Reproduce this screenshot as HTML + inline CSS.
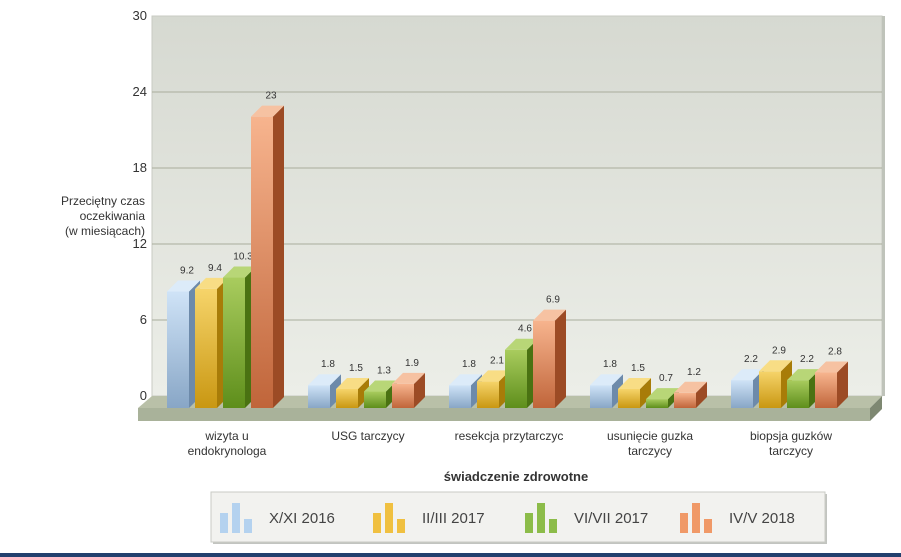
<!DOCTYPE html>
<html><head><meta charset="utf-8"><style>
body{margin:0;background:#fff;font-family:"Liberation Sans",Verdana,sans-serif}
svg{display:block}
</style></head><body>
<svg id="c" width="901" height="557" viewBox="0 0 901 557">
<defs>
<linearGradient id="wall" x1="0" y1="0" x2="0" y2="1"><stop offset="0" stop-color="#d6d9d1"/><stop offset="1" stop-color="#eceee8"/></linearGradient>
<linearGradient id="g0" x1="0" x2="0" y1="0" y2="1"><stop offset="0" stop-color="#cfe3f7"/><stop offset="1" stop-color="#88a6c6"/></linearGradient>
<linearGradient id="g1" x1="0" x2="0" y1="0" y2="1"><stop offset="0" stop-color="#f6d46a"/><stop offset="1" stop-color="#c99712"/></linearGradient>
<linearGradient id="g2" x1="0" x2="0" y1="0" y2="1"><stop offset="0" stop-color="#a9cc5e"/><stop offset="1" stop-color="#5e8e1b"/></linearGradient>
<linearGradient id="g3" x1="0" x2="0" y1="0" y2="1"><stop offset="0" stop-color="#f7b48e"/><stop offset="1" stop-color="#c0653a"/></linearGradient>
</defs>
<rect x="152" y="16" width="730" height="380" fill="url(#wall)" stroke="#c8cbc3"/>
<rect x="882" y="16" width="3" height="380" fill="#bfc3ba"/>
<g id="grid"></g>
<polygon points="152,396 882,396 870,408 138,408" fill="#b9c0a8"/>
<polygon points="138,408 870,408 870,421 138,421" fill="#a9b29a"/>
<polygon points="870,408 882,396 882,409 870,421" fill="#7e8872"/>
<g id="bars"></g>
<g id="xlabels" font-size="12" fill="#333" text-anchor="middle"></g>
<text x="145" y="205" font-size="12" fill="#333" text-anchor="end"><tspan x="145" y="205">Przeciętny czas</tspan><tspan x="145" y="220">oczekiwania</tspan><tspan x="145" y="235">(w miesiącach)</tspan></text>
<text x="516" y="481" font-size="13" font-weight="bold" fill="#333" text-anchor="middle">świadczenie zdrowotne</text>
<rect x="213" y="494" width="614" height="50" fill="#9a9c96" opacity="0.6"/>
<rect x="211" y="492" width="614" height="50" fill="#f2f2ef" stroke="#c9cbc5"/>
<g id="legend"></g>
<rect x="0" y="553" width="901" height="4" fill="#22406e"/>
</svg>
<script>
const categories=[["wizyta u","endokrynologa"],["USG tarczycy"],["resekcja przytarczyc"],["usunięcie guzka","tarczycy"],["biopsja guzków","tarczycy"]];
const seriesNames=["X/XI 2016","II/III 2017","VI/VII 2017","IV/V 2018"];
const s2016=[9.2,1.8,1.8,1.8,2.2];
const s2017a=[9.4,1.5,2.1,1.5,2.9];
const s2017b=[10.3,1.3,4.6,0.7,2.2];
const s2018=[23,1.9,6.9,1.2,2.8];
const yTicks=[0,6,12,18,24,30];
const series=[s2016,s2017a,s2017b,s2018];
const side=["#6d8aaa","#a87c08","#4a7212","#9c4b25"];
const topc=["#dcebf9","#f8dd85","#b8d677","#f6c2a2"];
const legc=["#a9cdee","#f0b721","#7ab32c","#f08a4f"];
const NS="http://www.w3.org/2000/svg";
const svg=document.getElementById('c');
const yBack=v=>396-v*(380/30);
const yFront=v=>408-v*(380/30);
function el(t,a,p){const e=document.createElementNS(NS,t);for(const k in a)e.setAttribute(k,a[k]);p.appendChild(e);return e;}
const grid=document.getElementById('grid');
yTicks.forEach(t=>{
 if(t>0&&t<30){const l=el('line',{x1:152,x2:882,y1:yBack(t),y2:yBack(t),stroke:'#a9ad9c','stroke-width':1},grid);
 
 }
 const tx=el('text',{x:147,y:yBack(t)+4,'font-size':13,fill:'#333','text-anchor':'end'},grid);tx.textContent=t;
 
 
});
const bars=document.getElementById('bars');
const W=22,D=11,step=28,gstep=141;
categories.forEach((c,i)=>{
 const gx=167+i*gstep;
 series.forEach((s,j)=>{
  const v=s[i],x=gx+j*step,yt=yFront(v),yb=408;
  const g=el('g',{},bars);
  
  
  el('rect',{x:x,y:yt,width:W,height:yb-yt,fill:'url(#g'+j+')'},g);
  el('polygon',{points:`${x+W},${yt} ${x+W+D},${yt-D} ${x+W+D},${yb-D} ${x+W},${yb}`,fill:side[j]},g);
  el('polygon',{points:`${x},${yt} ${x+D},${yt-D} ${x+W+D},${yt-D} ${x+W},${yt}`,fill:topc[j]},g);
  const t=el('text',{x:x+W/2+D-2,y:yt-D-7,'font-size':10,fill:'#333','text-anchor':'middle'},bars);t.textContent=v;
  
  
 });
 const xl=document.getElementById('xlabels');
 const cx=gx+60;
 const t=el('text',{x:cx,y:440},xl);
 
 
 c.forEach((ln,k)=>{const ts=el('tspan',{x:cx,y:440+k*15},t);ts.textContent=ln;});
});
const lg=document.getElementById('legend');
const lx=[220,373,525,680];
seriesNames.forEach((n,j)=>{
 const g=el('g',{},lg);
 
 
 const x=lx[j];
 el('rect',{x:x,y:513,width:8,height:20,fill:legc[j],opacity:0.85},g);
 el('rect',{x:x+12,y:503,width:8,height:30,fill:legc[j],opacity:0.85},g);
 el('rect',{x:x+24,y:519,width:8,height:14,fill:legc[j],opacity:0.85},g);
 const t=el('text',{x:x+49,y:523,'font-size':15,fill:'#444','font-family':'Liberation Sans, sans-serif'},g);t.textContent=n;
});
</script>
</body></html>
